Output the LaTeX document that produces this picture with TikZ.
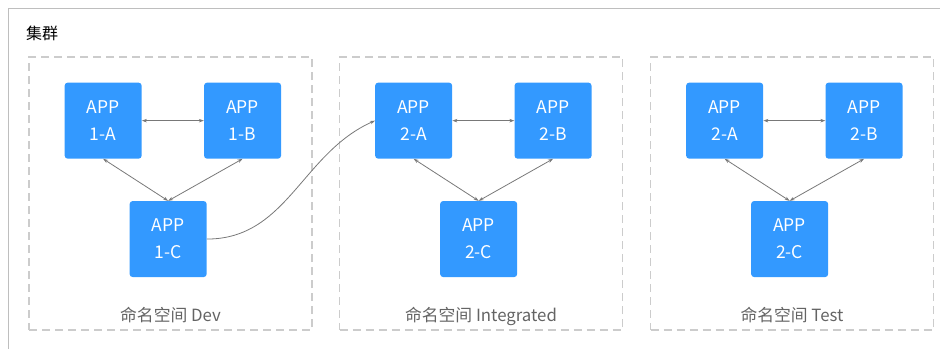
\documentclass[tikz,border=0pt]{standalone}
\usepackage{fontspec}
\setmainfont{Noto Sans CJK SC}
\usepackage{tikz}
\usetikzlibrary{arrows.meta, positioning, calc}
\definecolor{appblue}{RGB}{51, 153, 255}
\definecolor{linegray}{RGB}{120, 120, 120}
\definecolor{dashgray}{RGB}{204, 204, 204}
\definecolor{framegray}{RGB}{190, 190, 190}
\definecolor{labelgray}{RGB}{100, 100, 100}
\tikzset{
    app/.style = {rectangle, fill=appblue, text=white, rounded corners=3pt, minimum width=77pt, minimum height=76pt, inner sep=0pt, align=center, font=\fontsize{17.5}{27}\selectfont},
    nsbox/.style = {rectangle, draw=dashgray, line width=1.1pt, dash pattern=on 8pt off 5pt, minimum width=283pt, minimum height=273pt, inner sep=0pt},
    nslabel/.style = {anchor=base, text=labelgray, font=\fontsize{16.8}{18}\selectfont, inner sep=0pt},
    link/.style = {draw=linegray, line width=0.8pt, {Stealth[length=5pt,width=3.5pt]}-{Stealth[length=5pt,width=3.5pt]}},
    oneway/.style = {draw=linegray, line width=0.8pt, -{Stealth[length=5pt,width=3.5pt]}}
}

\begin{document}
\begin{tikzpicture}[x=1pt, y=-1pt]
\useasboundingbox (0,0) rectangle (940,349);

% Cluster frame
\draw [framegray, line width=1pt] (940,8) -- (8,8) -- (8,349);
\node (cluster) [anchor=west, font=\fontsize{16}{18}\selectfont, inner sep=0pt] at (26,33) {集群};

% Namespaces
\node (devns) [nsbox] at (170.5,193.5) {};
\node (intns) [nsbox] at (481,193.5) {};
\node (testns) [nsbox] at (792,193.5) {};

\node (devlabel) [nslabel] at ([yshift=9pt]devns.south) {命名空间 Dev};
\node (intlabel) [nslabel] at ([yshift=9pt]intns.south) {命名空间 Integrated};
\node (testlabel) [nslabel] at ([yshift=9pt]testns.south) {命名空间 Test};

% Apps in Dev
\node (devA) [app, anchor=north west] at ([xshift=36pt, yshift=-26pt]devns.north west) {APP\\1-A};
\node (devB) [app, right=62pt of devA] {APP\\1-B};
\node (devC) [app, below=42pt of devA, xshift=65pt] {APP\\1-C};

% Apps in Integrated
\node (intA) [app, anchor=north west] at ([xshift=36pt, yshift=-26pt]intns.north west) {APP\\2-A};
\node (intB) [app, right=62pt of intA] {APP\\2-B};
\node (intC) [app, below=42pt of intA, xshift=65pt] {APP\\2-C};

% Apps in Test
\node (testA) [app, anchor=north west] at ([xshift=36pt, yshift=-26pt]testns.north west) {APP\\2-A};
\node (testB) [app, right=62pt of testA] {APP\\2-B};
\node (testC) [app, below=42pt of testA, xshift=65pt] {APP\\2-C};

% Arrows
\draw [link] (devA) -- (devB);
\draw [link] (devA.south) -- (devC.north);
\draw [link] (devB.south) -- (devC.north);

\draw [link] (intA) -- (intB);
\draw [link] (intA.south) -- (intC.north);
\draw [link] (intB.south) -- (intC.north);

\draw [link] (testA) -- (testB);
\draw [link] (testA.south) -- (testC.north);
\draw [link] (testB.south) -- (testC.north);

\draw [oneway] (devC.east) to [out=0, in=204] (intA.west);

\end{tikzpicture}
\end{document}
